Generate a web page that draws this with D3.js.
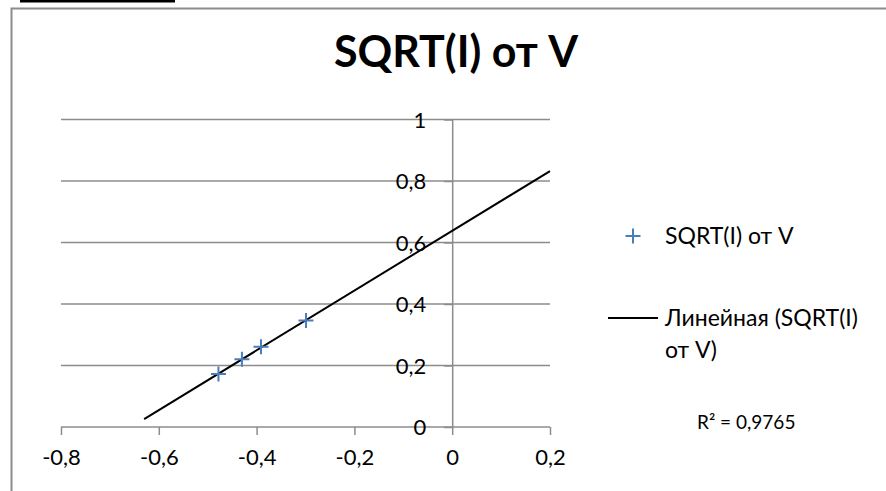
<!DOCTYPE html>
<html>
<head>
<meta charset="utf-8">
<script src="https://cdn.jsdelivr.net/npm/d3@7"></script>
<style>
  body { margin: 0; background: #fff; }
  svg { display: block; font-family: Lato, "Open Sans", sans-serif; }
  .grid line { stroke: #8c8c8c; stroke-width: 1.5; }
  .axis path, .axis line { stroke: #8c8c8c; stroke-width: 1.5; }
  .axis text { font-size: 22px; fill: #000; font-family: Lato, "Open Sans", sans-serif; }
</style>
</head>
<body>
<svg id="chart" width="886" height="491"></svg>
<script>
// measured points, SQRT(I) against V
const voltage = [-0.478, -0.430, -0.391, -0.299];
const sqrtCurrent = [0.172, 0.220, 0.261, 0.346];
const xTicks = [-0.8, -0.6, -0.4, -0.2, 0, 0.2];
const yTicks = [0, 0.2, 0.4, 0.6, 0.8, 1];
const trendRange = [-0.63, 0.2]; // Excel forecast backward/forward
const titleText = 'SQRT(I) от V';
const seriesName = 'SQRT(I) от V';
const trendName = ['Линейная (SQRT(I)', 'от V)'];
const r2Text = 'R² = 0,9765';

const svg = d3.select('#chart');
const fmt = v => d3.format('.1~f')(v).replace('.', ',').replace('−', '-');

const x = d3.scaleLinear().domain([-0.8, 0.2]).range([61, 550]);
const y = d3.scaleLinear().domain([0, 1]).range([427, 119.5]);

// frame bits
svg.append('rect').attr('x', 20).attr('y', 0).attr('width', 155).attr('height', 2.5).attr('fill', '#000');
svg.append('path')
  .attr('d', 'M11.5,491 V8.5 H886')
  .attr('fill', 'none').attr('stroke', '#8c8c8c').attr('stroke-width', 2);

// title
svg.append('text')
  .attr('x', 456).attr('y', 67)
  .attr('text-anchor', 'middle')
  .attr('font-size', 43).attr('font-weight', 'bold')
  .text(titleText);

// horizontal gridlines
svg.append('g').attr('class', 'grid')
  .selectAll('line').data(yTicks.filter(d => d > 0)).join('line')
  .attr('x1', x.range()[0]).attr('x2', x.range()[1])
  .attr('y1', d => y(d)).attr('y2', d => y(d));

// x axis through y = 0
const xAxis = svg.append('g').attr('class', 'axis')
  .attr('transform', `translate(0,${y(0)})`)
  .call(d3.axisBottom(x).tickValues(xTicks).tickFormat(fmt).tickSizeOuter(0).tickSizeInner(8).tickPadding(14));
xAxis.select('.domain').attr('d', `M${x.range()[0]},0H${x.range()[1]}`);

// y axis through x = 0
const yAxis = svg.append('g').attr('class', 'axis')
  .attr('transform', `translate(${x(0)},0)`)
  .call(d3.axisLeft(y).tickValues(yTicks).tickFormat(fmt).tickSizeOuter(0).tickSizeInner(8).tickPadding(18));
yAxis.selectAll('.tick text').attr('dy', '0.36em');

// linear trendline (least squares)
const mx = d3.mean(voltage), my = d3.mean(sqrtCurrent);
const sxy = d3.sum(voltage, (v, i) => (v - mx) * (sqrtCurrent[i] - my));
const sxx = d3.sum(voltage, v => (v - mx) ** 2);
const slope = sxy / sxx, intercept = my - slope * mx;
svg.append('line')
  .attr('x1', x(trendRange[0])).attr('y1', y(slope * trendRange[0] + intercept))
  .attr('x2', x(trendRange[1])).attr('y2', y(slope * trendRange[1] + intercept))
  .attr('stroke', '#000').attr('stroke-width', 2);

// markers
const marker = (g, cx, cy) => g.append('path')
  .attr('d', `M${cx - 7.5},${cy}H${cx + 7.5}M${cx},${cy - 7.5}V${cy + 7.5}`)
  .attr('stroke', '#4a7ebb').attr('stroke-width', 2).attr('fill', 'none');
const pts = svg.append('g');
voltage.forEach((v, i) => marker(pts, x(v), y(sqrtCurrent[i])));

// legend
const leg = svg.append('g').attr('font-size', 23);
marker(leg, 633, 236);
leg.append('text').attr('x', 665).attr('y', 244).text(seriesName);
leg.append('line').attr('x1', 608).attr('x2', 658).attr('y1', 318).attr('y2', 318)
  .attr('stroke', '#000').attr('stroke-width', 2);
leg.selectAll('text.tr').data(trendName).join('text').attr('class', 'tr')
  .attr('x', 665).attr('y', (d, i) => 326 + i * 32).text(d => d);

svg.append('text').attr('x', 697).attr('y', 429).attr('font-size', 19).text(r2Text);
</script>
</body>
</html>
